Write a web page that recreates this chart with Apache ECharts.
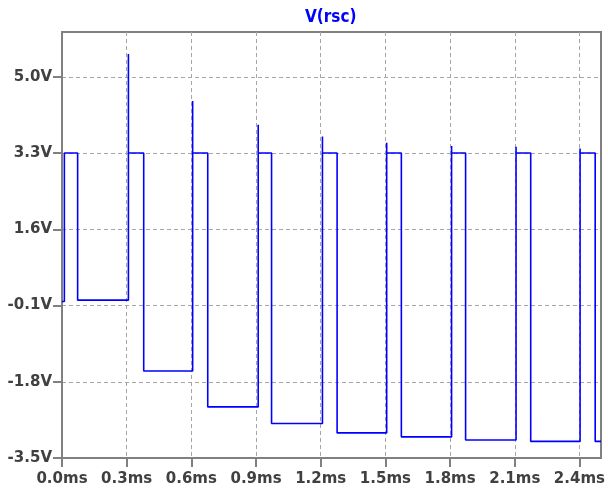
<!DOCTYPE html>
<html>
<head>
<meta charset="utf-8">
<script src="https://cdn.jsdelivr.net/npm/echarts@6/dist/echarts.min.js"></script>
<style>
  html, body { margin: 0; padding: 0; background: #ffffff; }
  #chart { width: 608px; height: 491px; }
</style>
</head>
<body>
<div id="chart"></div>
<script>
// Transient response V(rsc): pulse train with overshoot spikes on each rising edge
const startVolt = -0.01;     // level before the first edge (V)
const highVolt = 3.3;        // flat top of each pulse (V)
const endTime = 2.5;         // end of the simulation window (ms)
const riseTimes = [0.011, 0.308, 0.606, 0.910, 1.208, 1.506, 1.807, 2.106, 2.403]; // ms
const peakVolts = [3.3, 5.51, 4.46, 3.93, 3.67, 3.53, 3.46, 3.44, 3.40];            // V
const fallTimes = [0.0725, 0.379, 0.676, 0.972, 1.276, 1.574, 1.872, 2.174, 2.473]; // ms
const lowVolts = [0.02, -1.56, -2.36, -2.73, -2.94, -3.03, -3.10, -3.13, -3.13];    // V

const xTickValues = [0.0, 0.3, 0.6, 0.9, 1.2, 1.5, 1.8, 2.1, 2.4];
const yTickValues = [-3.5, -1.8, -0.1, 1.6, 3.3, 5.0];

// Assemble the piecewise-constant waveform
const wave = [[0, startVolt]];
for (let i = 0; i < riseTimes.length; i++) {
  const prevLow = i === 0 ? startVolt : lowVolts[i - 1];
  wave.push([riseTimes[i], prevLow]);
  wave.push([riseTimes[i], peakVolts[i]]);
  wave.push([riseTimes[i], highVolt]);
  wave.push([fallTimes[i], highVolt]);
  wave.push([fallTimes[i], lowVolts[i]]);
}
wave.push([endTime, lowVolts[lowVolts.length - 1]]);

const frameColor = '#808080';
const gridStyle = { color: '#a6a6a6', width: 1, type: [4, 3] };
const labelStyle = {
  color: '#404040',
  fontFamily: 'DejaVu Sans',
  fontWeight: 'bold',
  fontSize: 15
};

const chart = echarts.init(document.getElementById('chart'), null, { renderer: 'canvas' });
chart.setOption({
  animation: false,
  backgroundColor: '#ffffff',
  title: {
    text: 'V(rsc)',
    left: 305,
    top: 9,
    padding: 0,
    textStyle: {
      color: '#0000ff',
      fontFamily: '"DejaVu Sans Condensed", sans-serif',
      fontWeight: 'bold',
      fontSize: 17
    }
  },
  grid: {
    left: 62, top: 32, right: 5, bottom: 33,
    show: true,
    borderColor: frameColor,
    borderWidth: 2,
    backgroundColor: 'transparent'
  },
  xAxis: {
    type: 'value',
    min: 0,
    max: endTime,
    interval: 0.3,
    axisLine: { show: true, onZero: false, lineStyle: { color: frameColor, width: 2 } },
    axisTick: { show: true, length: 9, customValues: xTickValues, lineStyle: { color: frameColor, width: 2 } },
    axisLabel: {
      ...labelStyle,
      margin: 14,
      customValues: xTickValues,
      formatter: v => v.toFixed(1) + 'ms'
    },
    splitLine: { show: true, lineStyle: gridStyle }
  },
  yAxis: {
    type: 'value',
    min: -3.5,
    max: 6.0,
    interval: 1.7,
    axisLine: { show: true, onZero: false, lineStyle: { color: frameColor, width: 2 } },
    axisTick: { show: true, length: 9, customValues: yTickValues, lineStyle: { color: frameColor, width: 2 } },
    axisLabel: {
      ...labelStyle,
      margin: 10,
      customValues: yTickValues,
      formatter: v => v.toFixed(1) + 'V'
    },
    splitLine: { show: true, lineStyle: gridStyle }
  },
  series: [{
    name: 'V(rsc)',
    type: 'line',
    data: wave,
    showSymbol: false,
    symbol: 'none',
    lineStyle: { color: '#0000ff', width: 1.6 },
    z: 3
  }]
});
</script>
</body>
</html>
